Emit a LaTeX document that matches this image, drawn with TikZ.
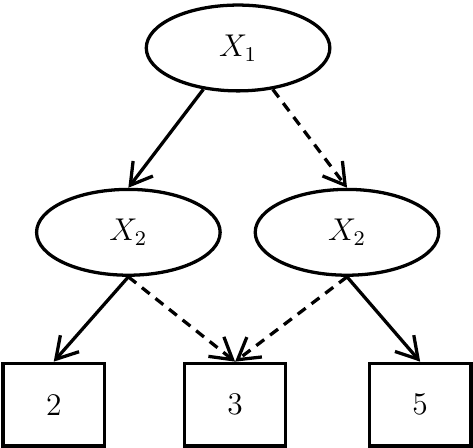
\documentclass[tikz,border=0pt]{standalone}
\usetikzlibrary{arrows.meta,shapes.geometric}

\begin{document}
\begin{tikzpicture}[
    line width=1.25pt,
    varnode/.style={draw, ellipse, minimum width=2.46cm, minimum height=1.15cm, inner sep=0pt, font=\large},
    leafbox/.style={draw, rectangle, minimum width=1.36cm, minimum height=1.11cm, inner sep=0pt, font=\large},
    edge/.style={-{Straight Barb[length=8pt, width=9.5pt]}},
    altedge/.style={edge, dash pattern=on 3.8pt off 2.8pt}
]
    \useasboundingbox (0,0) rectangle (6.338,6.003);

    % Root variable
    \node[varnode] (root) at (3.19,5.36) {$X_1$};

    % Second level
    \node[varnode] (left) at (1.72,2.89) {$X_2$};
    \node[varnode] (right) at (4.65,2.89) {$X_2$};

    % Leaves
    \node[leafbox] (leafa) at (0.72,0.58) {2};
    \node[leafbox] (leafb) at (3.15,0.58) {3};
    \node[leafbox] (leafc) at (5.63,0.58) {5};

    % Edges
    \draw[edge] (root.230) -- (left.north);
    \draw[altedge] (root.310) -- (right.north);

    \draw[edge] (left.south) -- (leafa.north);
    \draw[altedge] (left.south) -- (leafb.north);
    \draw[altedge] (right.south) -- (leafb.north);
    \draw[edge] (right.south) -- (leafc.north);
\end{tikzpicture}
\end{document}
